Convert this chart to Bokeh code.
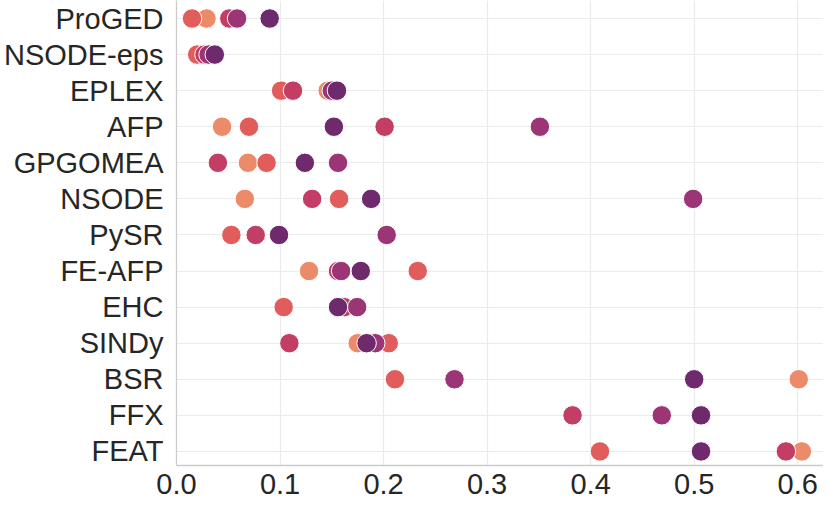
from bokeh.plotting import figure
from bokeh.models import Range1d, FixedTicker, PrintfTickFormatter, ColumnDataSource
from bokeh.embed import file_html
from bokeh.resources import INLINE

methods = ["ProGED", "NSODE-eps", "EPLEX", "AFP", "GPGOMEA", "NSODE", "PySR",
           "FE-AFP", "EHC", "SINDy", "BSR", "FFX", "FEAT"]

# five series (hue levels), drawn light -> dark
level_1 = [0.029, 0.023, 0.146, 0.044, 0.069, 0.066, 0.053, 0.128, 0.163, 0.175, 0.601, 0.507, 0.604]
level_2 = [0.015, 0.020, 0.101, 0.070, 0.087, 0.157, 0.053, 0.233, 0.1035, 0.205, 0.211, 0.507, 0.409]
level_3 = [0.051, 0.027, 0.1125, 0.201, 0.040, 0.131, 0.0765, 0.156, 0.162, 0.109, 0.500, 0.3825, 0.5886]
level_4 = [0.0585, 0.031, 0.150, 0.351, 0.156, 0.499, 0.203, 0.159, 0.1745, 0.192, 0.2685, 0.4687, 0.507]
level_5 = [0.090, 0.037, 0.155, 0.152, 0.124, 0.188, 0.099, 0.178, 0.156, 0.1836, 0.500, 0.5066, 0.5066]

x_ticks = [0.0, 0.1, 0.2, 0.3, 0.4, 0.5, 0.6]

series = [level_1, level_2, level_3, level_4, level_5]
colors = ["#ec8b69", "#e15d5b", "#c33e65", "#9c3575", "#6e2a6d"]

FONT = "Liberation Sans"
TXT = "#262626"

p = figure(width=823, height=499, output_backend="svg", toolbar_location=None,
           x_range=Range1d(0.0, 0.6249), y_range=Range1d(12.39, -0.499),
           min_border_left=175, min_border_right=0, min_border_top=0, min_border_bottom=34)

ypos = list(range(len(methods)))
for vals, col in zip(series, colors):
    src = ColumnDataSource(dict(x=vals, y=ypos, m=methods))
    p.scatter("x", "y", source=src, size=19.5, fill_color=col, line_color="white",
              line_width=1, fill_alpha=1.0)

p.outline_line_color = None
p.background_fill_color = "white"
p.border_fill_color = "white"

p.xaxis.ticker = FixedTicker(ticks=x_ticks)
p.xaxis.formatter = PrintfTickFormatter(format="%.1f")
p.yaxis.ticker = FixedTicker(ticks=ypos)
p.yaxis.major_label_overrides = {i: m for i, m in enumerate(methods)}

for ax in (p.xaxis, p.yaxis):
    ax.axis_line_color = "#cccccc"
    ax.axis_line_width = 1.3
    ax.major_tick_line_color = None
    ax.minor_tick_line_color = None
    ax.major_tick_out = 0
    ax.major_tick_in = 0
    ax.major_label_text_font = FONT
    ax.major_label_text_font_size = "29px"
    ax.major_label_text_color = TXT

p.yaxis.major_label_standoff = 13
p.xaxis.major_label_standoff = 8

p.xgrid.grid_line_color = "#ebebeb"
p.ygrid.grid_line_color = "#ebebeb"
p.xgrid.grid_line_width = 1.2
p.ygrid.grid_line_width = 1.2

open("out.html", "w").write(file_html(p, INLINE))
